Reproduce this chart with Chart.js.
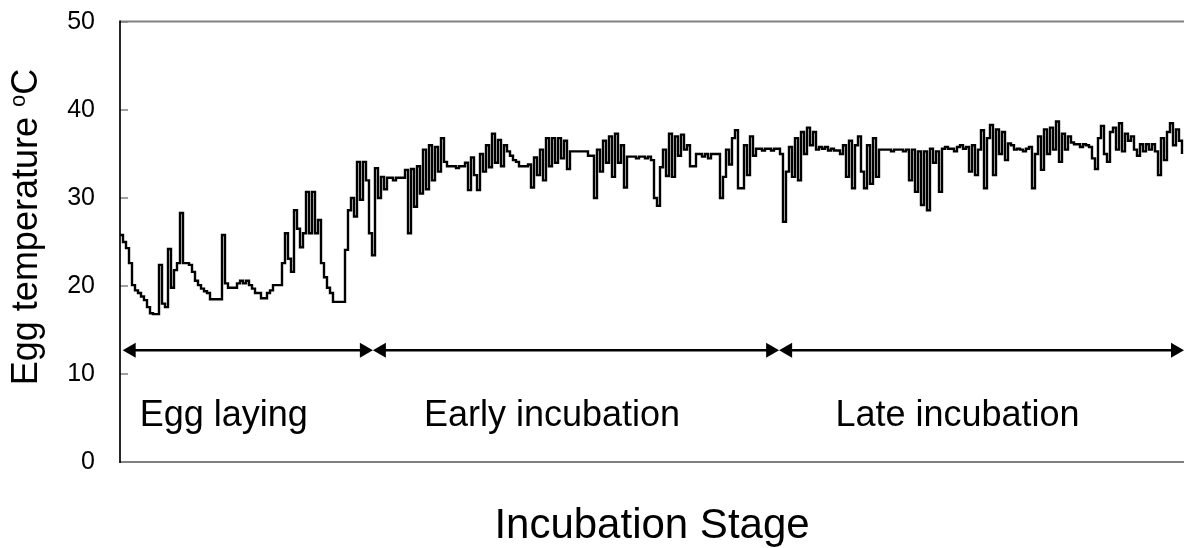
<!DOCTYPE html>
<html>
<head>
<meta charset="utf-8">
<script src="https://cdn.jsdelivr.net/npm/chart.js@4.4.1/dist/chart.umd.min.js"></script>
<style>
html,body{margin:0;padding:0;background:#fff;}
#wrap{width:1184px;height:548px;position:relative;}
</style>
</head>
<body>
<div id="wrap"><canvas id="grafico"></canvas></div>
<script>
const FONTE='"Liberation Sans", Arial, sans-serif';

// eixo y
const yTicks=[0,10,20,30,40,50];
// estagios (limites em indice de amostra)
const stageNames=['Egg laying','Early incubation','Late incubation'];
const stageBounds=[0.9,84.3,219.7,354.67];
const arrowLevel=12.7;

// temperaturas, uma amostra por passo
const layingTemps=[
25.8,25.0,24.3,22.6,20.1,19.5,19.2,18.8,18.4,17.6,
16.9,16.8,16.8,22.4,18.0,17.6,24.2,19.8,21.8,22.6,
28.3,22.6,22.6,22.4,21.6,20.6,20.1,19.7,19.4,19.2,
18.5,18.5,18.5,18.5,25.8,20.3,19.8,19.8,19.8,20.3,
20.6,20.3,20.6,20.1,19.7,19.2,19.2,18.6,18.6,19.2,
19.5,20.1,20.1,20.1,22.6,26.0,23.1,21.6,28.6,26.5,
24.4,26.0,30.7,26.0,30.7,26.0,27.5,22.6,21.0,19.8,
19.2,18.2,18.2,18.2,18.2,24.1,28.6,30.0,27.9,34.1,
29.8,34.1,32.0];
const earlyTemps=[
26.0,23.5,33.4,30.0,32.4,31.0,32.3,32.3,32.0,32.3,
32.3,32.3,33.2,26.0,33.3,29.0,33.6,30.5,35.5,31.0,
36.0,32.0,35.8,33.0,36.8,34.1,33.6,33.6,33.6,33.4,
33.6,33.6,34.0,30.9,34.6,32.6,30.9,35.0,33.0,36.0,
33.5,37.3,34.0,36.6,33.6,36.0,35.3,34.8,34.3,34.1,
33.6,33.6,33.6,33.8,31.2,34.6,32.6,35.5,32.0,36.8,
33.6,36.8,34.0,36.8,34.5,36.5,33.3,35.3,35.3,35.3,
35.3,35.3,35.3,34.8,34.8,30.0,35.5,33.0,36.5,34.0,
37.0,32.4,37.3,34.0,36.0,31.2,34.7,34.7,34.7,34.5,
34.7,34.7,34.5,34.7,34.3,30.0,29.1,33.5,35.5,32.5,
37.3,32.4,37.0,34.8,37.2,35.5,36.0,33.6,33.6,35.0,
35.0,34.7,35.0,34.5,35.0,35.0,35.0,30.0,32.4,35.5,
33.8,36.8,37.7,31.1,31.1,36.0,32.6,37.0,34.8,35.6,
35.6,35.4,35.6,35.6,35.4,35.6];
const lateTemps=[
35.6,35.0,27.3,33.0,35.8,32.4,36.8,32.0,37.5,35.0,
38.0,36.0,37.5,35.5,35.8,35.6,35.8,35.4,35.6,35.4,
35.4,35.0,36.0,32.4,36.5,31.1,36.0,37.0,33.0,31.1,
36.0,31.6,36.8,32.4,35.5,35.5,35.5,35.5,35.3,35.5,
35.5,35.5,35.3,35.5,32.0,35.5,30.7,35.3,29.2,35.3,
28.6,35.6,34.0,35.3,30.7,35.6,35.8,35.6,35.6,35.3,
35.8,36.0,35.6,35.8,33.0,36.0,32.6,35.5,37.7,31.1,
36.8,38.3,32.6,37.8,35.0,37.5,34.3,36.2,36.0,35.5,
35.6,35.5,35.3,35.6,35.8,31.1,35.0,37.0,33.2,37.8,
35.0,38.0,35.5,38.7,34.1,37.3,35.5,37.0,36.3,36.1,
36.1,35.8,36.1,36.0,35.8,34.5,33.3,36.8,38.2,35.0,
34.1,37.5,38.0,35.5,38.5,35.3,37.3,36.5,37.0,35.5,
34.8,36.1,35.3,36.1,35.5,36.1,35.3,32.6,36.8,34.3,
37.5,38.5,36.0,37.8,36.5,35.0];

const temps=layingTemps.concat(earlyTemps,lateTemps);
const pontos=temps.map(function(v,i){return {x:i,y:v};});

function desenharSeta(ctx,x1,x2,y){
  const L=13,H=7.5;
  ctx.beginPath();ctx.moveTo(x1+L-1,y);ctx.lineTo(x2-L+1,y);ctx.stroke();
  ctx.beginPath();ctx.moveTo(x1,y);ctx.lineTo(x1+L,y-H);ctx.lineTo(x1+L,y+H);ctx.closePath();ctx.fill();
  ctx.beginPath();ctx.moveTo(x2,y);ctx.lineTo(x2-L,y-H);ctx.lineTo(x2-L,y+H);ctx.closePath();ctx.fill();
}

const extras={
  id:'extras',
  beforeDatasetsDraw(chart){
    const ctx=chart.ctx,a=chart.chartArea,ys=chart.scales.y;
    ctx.save();
    ctx.strokeStyle='#808080';ctx.lineWidth=2;
    ctx.beginPath();ctx.moveTo(a.left,a.top-0.5);ctx.lineTo(a.right,a.top-0.5);ctx.stroke();
    ctx.beginPath();ctx.moveTo(a.left,a.bottom);ctx.lineTo(a.right,a.bottom);ctx.stroke();
    ctx.lineWidth=1.5;
    yTicks.forEach(function(t){
      const y=ys.getPixelForValue(t);
      ctx.beginPath();ctx.moveTo(a.left,y);ctx.lineTo(a.left+8,y);ctx.stroke();
    });
    ctx.strokeStyle='#000';ctx.lineWidth=1.7;
    ctx.beginPath();ctx.moveTo(a.left,a.top-1.5);ctx.lineTo(a.left,a.bottom+1);ctx.stroke();
    ctx.restore();
  },
  afterDraw(chart){
    const ctx=chart.ctx,xs=chart.scales.x,ys=chart.scales.y;
    ctx.save();
    ctx.fillStyle='#000';ctx.strokeStyle='#000';ctx.lineWidth=2.5;
    const ya=ys.getPixelForValue(arrowLevel);
    for(let k=0;k<stageNames.length;k++){
      const x1=xs.getPixelForValue(stageBounds[k]),x2=xs.getPixelForValue(stageBounds[k+1]);
      desenharSeta(ctx,x1,x2,ya);
      ctx.font='36px '+FONTE;ctx.textAlign='center';ctx.textBaseline='alphabetic';
      ctx.fillText(stageNames[k],(x1+x2)/2-24,426);
    }
    // titulo eixo x
    ctx.font='42px '+FONTE;ctx.textAlign='center';
    ctx.fillText('Incubation Stage',(chart.chartArea.left+chart.chartArea.right)/2,538);
    // titulo eixo y com o sobrescrito
    ctx.translate(37,227);ctx.rotate(-Math.PI/2);
    const grande='36px '+FONTE,peq='22px '+FONTE;
    ctx.font=grande;const w1=ctx.measureText('Egg temperature ').width,w3=ctx.measureText('C').width;
    ctx.font=peq;const w2=ctx.measureText('o').width;
    let x=-(w1+w2+w3)/2;
    ctx.textAlign='left';
    ctx.font=grande;ctx.fillText('Egg temperature ',x,0);x+=w1;
    ctx.font=peq;ctx.fillText('o',x,-12);x+=w2;
    ctx.font=grande;ctx.fillText('C',x,0);
    ctx.restore();
  }
};

const grafico=new Chart(document.getElementById('grafico').getContext('2d'),{
  type:'line',
  data:{datasets:[{data:pontos,borderColor:'#000',borderWidth:2.4,pointRadius:0,stepped:true,fill:false,tension:0}]},
  options:{
    responsive:true,maintainAspectRatio:false,animation:false,
    layout:{padding:{left:0,top:22,right:0,bottom:86}},
    plugins:{legend:{display:false},tooltip:{enabled:false}},
    scales:{
      x:{type:'linear',min:0,max:stageBounds[3],display:false},
      y:{min:0,max:50,
        afterFit:function(s){s.width=120;s.paddingTop=0;s.paddingBottom=0;},
        afterBuildTicks:function(s){s.ticks=yTicks.map(function(v){return {value:v};});},
        grid:{display:false,drawTicks:false},
        border:{display:false},
        ticks:{color:'#000',padding:25,font:{family:FONTE,size:25}}
      }
    }
  },
  plugins:[extras]
});
</script>
</body>
</html>
